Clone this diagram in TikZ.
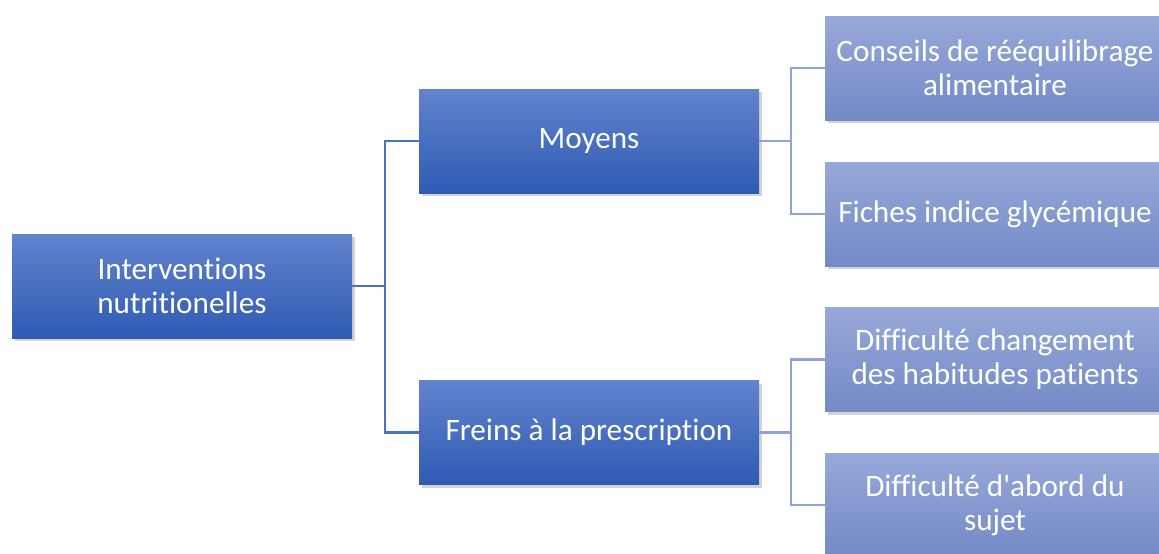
\documentclass[tikz,border=0pt]{standalone}
\usepackage{fontspec}
\setmainfont{Carlito}[Ligatures={NoCommon}]
\usetikzlibrary{shadows}
\definecolor{maintop}{HTML}{6283CD}
\definecolor{mainbot}{HTML}{2F5BB3}
\definecolor{subtop}{HTML}{97A9D9}
\definecolor{subbot}{HTML}{7489C6}
\definecolor{mainline}{HTML}{4A72C4}
\definecolor{subline}{HTML}{8FA3D6}
\tikzset{
  mainbox/.style={rectangle, minimum width=255pt, minimum height=78pt, inner sep=0pt,
    top color=maintop, bottom color=mainbot, draw=none, text=white, align=center,
    font=\fontsize{23.4}{25.7}\selectfont,
    drop shadow={opacity=0.35, shadow xshift=2pt, shadow yshift=-2.5pt}},
  subbox/.style={mainbox, top color=subtop, bottom color=subbot},
  mainconn/.style={draw=mainline, line width=1.6pt},
  subconn/.style={draw=subline, line width=1.6pt},
}
\begin{document}
\begin{tikzpicture}[x=0.75pt, y=-0.75pt]
\useasboundingbox (0,0) rectangle (1159,553);
\clip (0,0) rectangle (1159,553);
\node[mainbox] (root) at (182,286) {Interventions\\nutritionelles};
\node[mainbox] (moy) at (589,141) {Moyens};
\node[mainbox] (fre) at (589,432.5) {Freins à la prescription};
\node[subbox] (c1) at (995,68) {Conseils de rééquilibrage\\alimentaire};
\node[subbox] (c2) at (995,214) {Fiches indice glycémique};
\node[subbox] (c3) at (995,359.5) {Difficulté changement\\des habitudes patients};
\node[subbox] (c4) at (995,505) {Difficulté d\textquotesingle abord du\\sujet};
\coordinate (j0) at (385,286);
\coordinate (j1) at (791,141);
\coordinate (j2) at (791,432.5);
\draw[mainconn] (root.east) -- (j0) |- (moy.west);
\draw[mainconn] (j0) |- (fre.west);
\draw[subconn] (moy.east) -- (j1) |- (c1.west);
\draw[subconn] (j1) |- (c2.west);
\draw[subconn] (fre.east) -- (j2) |- (c3.west);
\draw[subconn] (j2) |- (c4.west);
\end{tikzpicture}
\end{document}
